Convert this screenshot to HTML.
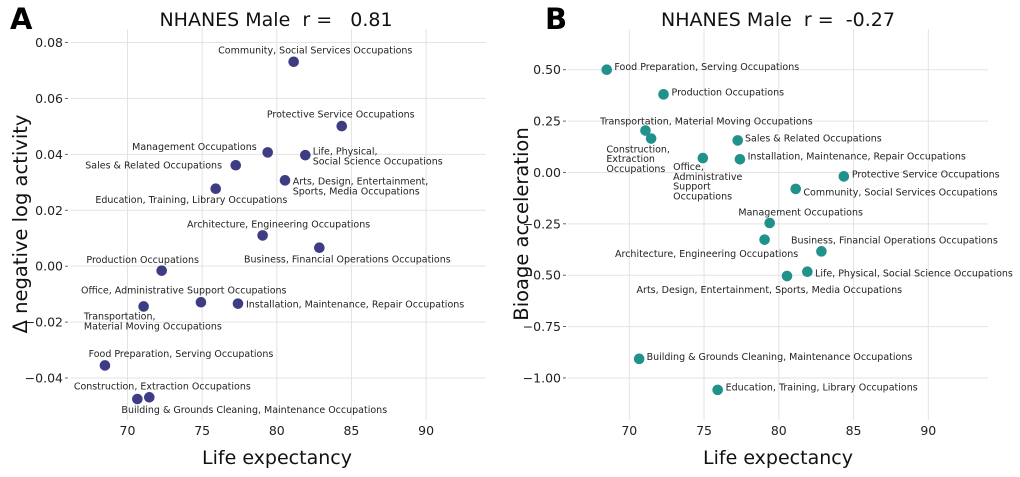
<!DOCTYPE html>
<html><head><meta charset="utf-8">
<style>
html,body{margin:0;padding:0;background:#fff;}
svg{display:block;font-family:"DejaVu Sans","Liberation Sans",sans-serif;}
.tick{font-size:12.5px;fill:#222;}
.lbl{font-size:9.5px;fill:#222;}
</style></head>
<body>
<svg id="chart" width="1020" height="477" viewBox="0 0 1020 477"></svg>
<script>
const categories=["Community, Social Services Occupations","Protective Service Occupations","Management Occupations","Life, Physical, Social Science Occupations","Sales & Related Occupations","Arts, Design, Entertainment, Sports, Media Occupations","Education, Training, Library Occupations","Architecture, Engineering Occupations","Business, Financial Operations Occupations","Production Occupations","Office, Administrative Support Occupations","Transportation, Material Moving Occupations","Installation, Maintenance, Repair Occupations","Food Preparation, Serving Occupations","Construction, Extraction Occupations","Building & Grounds Cleaning, Maintenance Occupations"];
const lifeExpA=[81.13,84.35,79.39,81.91,77.25,80.55,75.91,79.05,82.85,72.29,74.92,71.08,77.40,68.49,70.66,71.46];
const lifeExpB=[81.13,84.35,79.39,81.91,77.25,80.55,75.91,79.05,82.85,72.29,74.92,71.08,77.40,68.49,71.46,70.66];
const activityA=[0.0731,0.0501,0.0407,0.0397,0.0361,0.0307,0.0277,0.0110,0.0066,-0.0016,-0.0129,-0.0144,-0.0134,-0.0355,-0.0475,-0.0469];
const bioageB=[-0.080,-0.019,-0.246,-0.483,0.156,-0.504,-1.058,-0.327,-0.384,0.38,0.070,0.204,0.064,0.50,0.165,-0.907];
const xTicks=[70,75,80,85,90];
const yTicksA=[0.08,0.06,0.04,0.02,0.00,-0.02,-0.04];
const yTickLabelsA=["0.08","0.06","0.04","0.02","0.00","\u22120.02","\u22120.04"];
const yTicksB=[0.5,0.25,0,-0.25,-0.5,-0.75,-1.0];
const yTickLabelsB=["0.50","0.25","0.00","\u22120.25","\u22120.50","\u22120.75","\u22121.00"];
const labelsA=[["Community, Social Services Occupations"],["Protective Service Occupations"],["Management Occupations"],["Life, Physical,","Social Science Occupations"],["Sales & Related Occupations"],["Arts, Design, Entertainment,","Sports, Media Occupations"],["Education, Training, Library Occupations"],["Architecture, Engineering Occupations"],["Business, Financial Operations Occupations"],["Production Occupations"],["Office, Administrative Support Occupations"],["Transportation,","Material Moving Occupations"],["Installation, Maintenance, Repair Occupations"],["Food Preparation, Serving Occupations"],["Construction, Extraction Occupations"],["Building & Grounds Cleaning, Maintenance Occupations"]];
const offA=[[21.6,-11.7,"middle"],[-1,-12,"middle"],[-11,-6,"end"],[7.4,-4.3,"start"],[-13.7,0,"end"],[7.7,0.7,"start"],[-24.4,11,"middle"],[16,-11.3,"middle"],[28,11.3,"middle"],[-19,-11.4,"middle"],[-17.2,-12,"middle"],[-59.7,9.7,"start"],[8,0.3,"start"],[76,-11.7,"middle"],[25,-13,"middle"],[105,12.3,"middle"]];
const labelsB=[["Community, Social Services Occupations"],["Protective Service Occupations"],["Management Occupations"],["Life, Physical, Social Science Occupations"],["Sales & Related Occupations"],["Arts, Design, Entertainment, Sports, Media Occupations"],["Education, Training, Library Occupations"],["Architecture, Engineering Occupations"],["Business, Financial Operations Occupations"],["Production Occupations"],["Office,","Administrative","Support","Occupations"],["Transportation, Material Moving Occupations"],["Installation, Maintenance, Repair Occupations"],["Food Preparation, Serving Occupations"],["Construction,","Extraction","Occupations"],["Building & Grounds Cleaning, Maintenance Occupations"]];
const offB=[[7.7,3,"start"],[8,-2.3,"start"],[31,-11,"middle"],[7.7,1.3,"start"],[7.3,-2.3,"start"],[-17.7,13.3,"middle"],[8,-2.7,"start"],[-58,14,"middle"],[73,-11.3,"middle"],[8,-2.6,"start"],[-29.7,8.3,"start"],[61,-9.3,"middle"],[7.7,-3.3,"start"],[7.7,-3,"start"],[-44.7,10.3,"start"],[7.4,-2.3,"start"]];

const svg=document.getElementById('chart');
const NS='http://www.w3.org/2000/svg';
function mk(tag,attrs,parent){const e=document.createElementNS(NS,tag);for(const k in attrs)e.setAttribute(k,attrs[k]);(parent||svg).appendChild(e);return e;}

function panel(cfg){
  const g=mk('g',{});
  
  
  const xs=v=>cfg.x0px+(v-70)*cfg.xk;
  const ys=v=>cfg.yRefPx+(cfg.yRef-v)*cfg.yk;
  xTicks.forEach(t=>{
    const l=mk('line',{x1:xs(t),x2:xs(t),y1:cfg.top,y2:cfg.bot,stroke:'#e3e3e3','stroke-width':1},g);
    
    
    const tx=mk('text',{x:xs(t),y:cfg.bot+15,'text-anchor':'middle',class:'tick'},g);
    tx.textContent=t;
    
    
  });
  cfg.yTicks.forEach((t,i)=>{
    const l=mk('line',{x1:cfg.left,x2:cfg.right,y1:ys(t),y2:ys(t),stroke:'#e3e3e3','stroke-width':1},g);
    
    
    mk('line',{x1:cfg.left-5,x2:cfg.left-2,y1:ys(t),y2:ys(t),stroke:'#444','stroke-width':0.8},g);
    const tx=mk('text',{x:cfg.left-7,y:ys(t)+4.5,'text-anchor':'end',class:'tick'},g);
    tx.textContent=cfg.yLabels[i];
    
    
  });
  cfg.xs.forEach((xv,i)=>{
    const px=xs(xv),py=ys(cfg.ys[i]);
    const c=mk('circle',{cx:px,cy:py,r:5.3,fill:cfg.color},g);
    
    
    const o=cfg.off[i];
    const lines=cfg.labels[i];
    lines.forEach((ln,j)=>{
      const t=mk('text',{x:px+o[0],y:py+o[1]+j*9.9+3.5,'text-anchor':o[2],class:'lbl'},g);
      t.textContent=ln;
      
      
    });
  });
  const tt=mk('text',{x:cfg.titleX,y:26,'text-anchor':'middle','font-size':'19px',fill:'#111',style:'white-space:pre'},g);
  tt.textContent=cfg.title;
  
  
  const pl=mk('text',{x:cfg.letterX,y:29,'font-size':'29px','font-weight':'bold',fill:'#000'},g);
  pl.textContent=cfg.letter;
  
  
  const xt=mk('text',{x:cfg.xTitleX,y:464,'text-anchor':'middle','font-size':'19px',fill:'#111'},g);
  xt.textContent='Life expectancy';
  
  
  const yt=mk('text',{x:0,y:0,'text-anchor':'middle','font-size':'19.5px',fill:'#111',transform:`translate(${cfg.yTitleX},224) rotate(-90)`},g);
  yt.textContent=cfg.yTitle;
  
  
}
panel({name:'panel-a',x0px:127.5,xk:14.93,yRef:0.08,yRefPx:42.5,yk:2796,left:70,right:486,top:29,bot:420,
  xs:lifeExpA,ys:activityA,yTicks:yTicksA,yLabels:yTickLabelsA,labels:labelsA,off:offA,color:'#3e3d84',
  title:'NHANES Male  r =   0.81',titleX:276,letter:'A',letterX:10,xTitleX:277,yTitleX:27,yTitle:'\u0394 negative log activity'});
panel({name:'panel-b',x0px:629.3,xk:14.95,yRef:0.5,yRefPx:69.7,yk:205.5,left:568,right:988,top:29,bot:420,
  xs:lifeExpB,ys:bioageB,yTicks:yTicksB,yLabels:yTickLabelsB,labels:labelsB,off:offB,color:'#21918c',
  title:'NHANES Male  r =  -0.27',titleX:778,letter:'B',letterX:545,xTitleX:778,yTitleX:528,yTitle:'Bioage acceleration'});
</script>
</body></html>
